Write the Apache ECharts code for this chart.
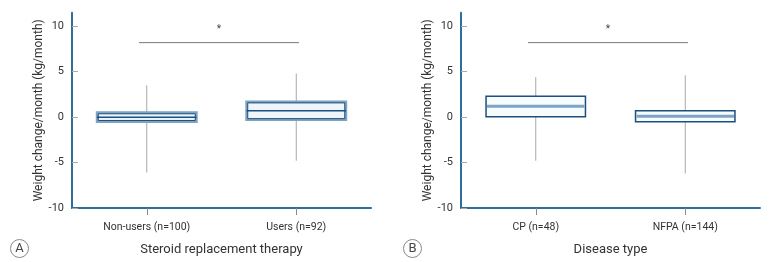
<!DOCTYPE html>
<html>
<head>
<meta charset="utf-8">
<script src="https://cdn.jsdelivr.net/npm/echarts@6/dist/echarts.min.js"></script>
<style>
  html, body { margin: 0; padding: 0; background: #fff; }
  #chart { width: 773px; height: 262px; }
</style>
</head>
<body>
<div id="chart"></div>
<script>
// values: [min, q1, median, q3, max]
const panelACategories = ['Non-users (n=100)', 'Users (n=92)']
const panelAStats = [
  [-6.1, -0.5, 0.0, 0.5, 3.5],
  [-4.8, -0.3, 0.7, 1.7, 4.8],
]
const panelBCategories = ['CP (n=48)', 'NFPA (n=144)']
const panelBStats = [
  [-4.8, 0.05, 1.2, 2.3, 4.4],
  [-6.2, -0.5, 0.1, 0.7, 4.6],
]
const yTicks = [-10, -5, 0, 5, 10]
const bracketY = 8.2
const asteriskY = 9.6
const panelAXName = 'Steroid replacement therapy'
const panelBXName = 'Disease type'
const yName = 'Weight change/month (kg/month)'

const FONT = '"Liberation Sans Narrow", "Roboto", "Liberation Sans", sans-serif'
const AXIS_BLUE = '#2f6d9c'
const NAVY = '#1d4f7c'
const STEEL = '#7fa3c3'

const chart = echarts.init(document.getElementById('chart'), null, { renderer: 'canvas' })

function xAxisFor(idx, cats, name) {
  return {
    type: 'category', gridIndex: idx, data: cats,
    name, nameLocation: 'middle', nameGap: 35,
    nameTextStyle: { fontFamily: FONT, fontSize: 13, color: '#333' },
    axisLine: { onZero: false, lineStyle: { color: AXIS_BLUE, width: 2 } },
    axisTick: { show: true, alignWithLabel: true, length: 7, lineStyle: { color: '#8a8a8a', width: 1 } },
    axisLabel: { fontFamily: FONT, fontSize: 10.5, color: '#333', margin: 14 },
    splitLine: { show: false },
  }
}

function yAxisFor(idx) {
  return {
    type: 'value', gridIndex: idx, min: -10, max: 11.5,
    name: yName, nameLocation: 'middle', nameGap: 25, nameRotate: 90,
    nameTextStyle: { fontFamily: FONT, fontSize: 12, color: '#333' },
    axisLine: { show: true, lineStyle: { color: AXIS_BLUE, width: 2 } },
    axisTick: { show: true, inside: true, length: 6, customValues: yTicks, lineStyle: { color: '#aaa' } },
    axisLabel: { fontFamily: FONT, fontSize: 11, color: '#333', margin: 8, customValues: yTicks },
    splitLine: { show: false },
  }
}

function boxSeries(idx, stats, variant) {
  return {
    type: 'custom', xAxisIndex: idx, yAxisIndex: idx,
    data: stats.map((s, i) => [i, ...s]),
    renderItem: (params, api) => {
      const i = api.value(0)
      const band = api.size([1, 0])[0]
      const w = band * 0.665
      const cx = api.coord([i, 0])[0]
      const yMin = api.coord([i, api.value(1)])[1]
      const yQ1 = api.coord([i, api.value(2)])[1]
      const yMed = api.coord([i, api.value(3)])[1]
      const yQ3 = api.coord([i, api.value(4)])[1]
      const yMax = api.coord([i, api.value(5)])[1]
      const x0 = cx - w / 2
      const children = [
        { type: 'line', shape: { x1: cx, y1: yMax, x2: cx, y2: yMin }, style: { stroke: '#a8a8a8', lineWidth: 1 } },
      ]
      if (variant === 'A') {
        children.push(
          { type: 'rect', shape: { x: x0, y: yQ3, width: w, height: yQ1 - yQ3 }, style: { fill: '#eef6fc', stroke: STEEL, lineWidth: 2.5 } },
          { type: 'rect', shape: { x: x0 + 1.2, y: yQ3 + 1.2, width: w - 2.4, height: yQ1 - yQ3 - 2.4 }, style: { fill: 'none', stroke: NAVY, lineWidth: 1 } },
          { type: 'line', shape: { x1: x0, y1: yMed, x2: x0 + w, y2: yMed }, style: { stroke: NAVY, lineWidth: 1.5 } },
        )
      } else {
        children.push(
          { type: 'rect', shape: { x: x0, y: yQ3, width: w, height: yQ1 - yQ3 }, style: { fill: '#f6fbfe', stroke: NAVY, lineWidth: 1.5 } },
          { type: 'line', shape: { x1: x0 + 1, y1: yMed, x2: x0 + w - 1, y2: yMed }, style: { stroke: STEEL, lineWidth: 3 } },
        )
      }
      return { type: 'group', children }
    },
    z: 3,
  }
}

function bracketSeries(idx) {
  return {
    type: 'custom', xAxisIndex: idx, yAxisIndex: idx,
    data: [[0, 1, bracketY, asteriskY]],
    renderItem: (params, api) => {
      const band = api.size([1, 0])[0]
      const a = api.coord([api.value(0), api.value(2)])
      const b = api.coord([api.value(1), api.value(2)])
      const x1 = a[0] - band * 0.052
      const x2 = b[0] + band * 0.018
      const ty = api.coord([0, api.value(3)])[1]
      return {
        type: 'group',
        children: [
          { type: 'line', shape: { x1, y1: a[1], x2, y2: a[1] }, style: { stroke: '#777', lineWidth: 1 } },
          { type: 'text', style: { text: '*', x: (x1 + x2) / 2, y: ty, align: 'center', verticalAlign: 'middle', fill: '#444', font: '10px ' + FONT } },
        ],
      }
    },
  }
}

function panelLetter(cx, letter) {
  return {
    type: 'group', left: cx - 9, top: 239,
    children: [
      { type: 'circle', shape: { cx: 9, cy: 9, r: 9 }, style: { fill: '#fff', stroke: '#888', lineWidth: 1 } },
      { type: 'text', style: { text: letter, x: 9, y: 9.5, align: 'center', verticalAlign: 'middle', font: '13px ' + FONT, fill: '#444' } },
    ],
  }
}

chart.setOption({
  animation: false,
  grid: [
    { left: 72, right: 402, top: 12.65, bottom: 54 },
    { left: 461, right: 13, top: 12.65, bottom: 54 },
  ],
  xAxis: [xAxisFor(0, panelACategories, panelAXName), xAxisFor(1, panelBCategories, panelBXName)],
  yAxis: [yAxisFor(0), yAxisFor(1)],
  series: [
    boxSeries(0, panelAStats, 'A'),
    boxSeries(1, panelBStats, 'B'),
    bracketSeries(0),
    bracketSeries(1),
  ],
  graphic: [panelLetter(19, 'A'), panelLetter(412, 'B')],
})
</script>
</body>
</html>
